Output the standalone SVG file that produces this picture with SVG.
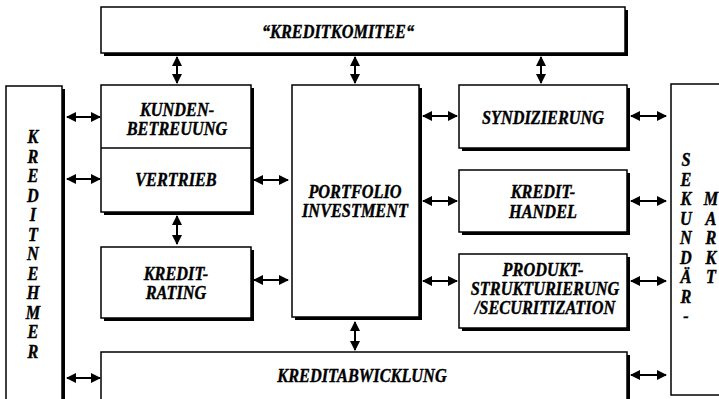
<svg xmlns="http://www.w3.org/2000/svg" width="719" height="399" viewBox="0 0 719 399">
<style>
.box{fill:#fff;stroke:#000;stroke-width:1.5}
.sh{fill:#000}
.t{font-family:"Liberation Serif","Times New Roman",serif;font-weight:bold;font-style:italic;font-size:16.3px;fill:#000;stroke:#000;stroke-width:0.35;text-anchor:middle}
.c{stroke:#000;stroke-width:2;fill:none;marker-start:url(#ah);marker-end:url(#ah)}
</style>
<defs>
<marker id="ah" viewBox="0 0 10 10" refX="9" refY="5" markerWidth="10" markerHeight="10" markerUnits="userSpaceOnUse" orient="auto-start-reverse">
<path d="M0,0 L10,5 L0,10 Z" fill="#000"/>
</marker>
</defs>
<rect width="719" height="399" fill="#fff"/>

<g id="kreditkomitee">
<rect class="sh" x="104" y="10" width="524" height="46"/>
<rect class="box" x="101" y="7" width="524" height="46"/>
<g transform="translate(338,38) scale(1,1.12)"><text class="t">“KREDITKOMITEE“</text></g>
</g>

<g id="kreditnehmer">
<rect class="sh" x="9" y="89" width="56" height="315"/>
<rect class="box" x="6" y="86" width="56" height="315"/>
<g transform="translate(33,143) scale(1,1.12)"><text class="t">K</text></g>
<g transform="translate(33,162.5) scale(1,1.12)"><text class="t">R</text></g>
<g transform="translate(33,182) scale(1,1.12)"><text class="t">E</text></g>
<g transform="translate(33,201.5) scale(1,1.12)"><text class="t">D</text></g>
<g transform="translate(33,221) scale(1,1.12)"><text class="t">I</text></g>
<g transform="translate(33,240.5) scale(1,1.12)"><text class="t">T</text></g>
<g transform="translate(33,260) scale(1,1.12)"><text class="t">N</text></g>
<g transform="translate(33,279.5) scale(1,1.12)"><text class="t">E</text></g>
<g transform="translate(33,299) scale(1,1.12)"><text class="t">H</text></g>
<g transform="translate(33,318.5) scale(1,1.12)"><text class="t">M</text></g>
<g transform="translate(33,338) scale(1,1.12)"><text class="t">E</text></g>
<g transform="translate(33,357.5) scale(1,1.12)"><text class="t">R</text></g>
</g>

<g id="kundenbetreuung-vertrieb">
<rect class="sh" x="104" y="88" width="150" height="127"/>
<rect class="box" x="101" y="85" width="150" height="127"/>
<line x1="101" y1="148" x2="251" y2="148" stroke="#000" stroke-width="1.5"/>
<g transform="translate(177,116) scale(1,1.12)"><text class="t">KUNDEN-</text></g>
<g transform="translate(177,134.5) scale(1,1.12)"><text class="t">BETREUUNG</text></g>
<g transform="translate(176,186) scale(1,1.12)"><text class="t">VERTRIEB</text></g>
</g>

<g id="kreditrating">
<rect class="sh" x="104" y="250" width="150" height="71"/>
<rect class="box" x="101" y="247" width="150" height="71"/>
<g transform="translate(176,280) scale(1,1.12)"><text class="t">KREDIT-</text></g>
<g transform="translate(176,298.5) scale(1,1.12)"><text class="t">RATING</text></g>
</g>

<g id="portfolio">
<rect class="sh" x="295" y="88" width="127" height="232"/>
<rect class="box" x="292" y="85" width="127" height="232"/>
<g transform="translate(355,198) scale(1,1.12)"><text class="t">PORTFOLIO</text></g>
<g transform="translate(355,217) scale(1,1.12)"><text class="t">INVESTMENT</text></g>
</g>

<g id="syndizierung">
<rect class="sh" x="462" y="88" width="168" height="63"/>
<rect class="box" x="459" y="85" width="168" height="63"/>
<g transform="translate(543,124) scale(1,1.12)"><text class="t">SYNDIZIERUNG</text></g>
</g>

<g id="kredithandel">
<rect class="sh" x="462" y="173" width="168" height="62"/>
<rect class="box" x="459" y="170" width="168" height="62"/>
<g transform="translate(543,198) scale(1,1.12)"><text class="t">KREDIT-</text></g>
<g transform="translate(543,218) scale(1,1.12)"><text class="t">HANDEL</text></g>
</g>

<g id="produktstrukturierung">
<rect class="sh" x="462" y="257" width="168" height="74"/>
<rect class="box" x="459" y="254" width="168" height="74"/>
<g transform="translate(543,276) scale(1,1.12)"><text class="t">PRODUKT-</text></g>
<g transform="translate(545,295) scale(1,1.12)"><text class="t">STRUKTURIERUNG</text></g>
<g transform="translate(545,313.5) scale(1,1.12)"><text class="t">/SECURITIZATION</text></g>
</g>

<g id="kreditabwicklung">
<rect class="sh" x="104" y="355" width="526" height="50"/>
<rect class="box" x="101" y="352" width="526" height="50"/>
<g transform="translate(362,382) scale(1,1.12)"><text class="t">KREDITABWICKLUNG</text></g>
</g>

<g id="sekundaermarkt">
<rect class="box" x="671" y="84" width="60" height="311"/>
<g transform="translate(686,166) scale(1,1.12)"><text class="t">S</text></g>
<g transform="translate(686,185.5) scale(1,1.12)"><text class="t">E</text></g>
<g transform="translate(686,205) scale(1,1.12)"><text class="t">K</text></g>
<g transform="translate(686,224.5) scale(1,1.12)"><text class="t">U</text></g>
<g transform="translate(686,244) scale(1,1.12)"><text class="t">N</text></g>
<g transform="translate(686,263.5) scale(1,1.12)"><text class="t">D</text></g>
<g transform="translate(686,283) scale(1,1.12)"><text class="t">Ä</text></g>
<g transform="translate(686,302.5) scale(1,1.12)"><text class="t">R</text></g>
<g transform="translate(686,322) scale(1,1.12)"><text class="t">-</text></g>
<g transform="translate(711,205) scale(1,1.12)"><text class="t">M</text></g>
<g transform="translate(711,224.5) scale(1,1.12)"><text class="t">A</text></g>
<g transform="translate(711,244) scale(1,1.12)"><text class="t">R</text></g>
<g transform="translate(711,263.5) scale(1,1.12)"><text class="t">K</text></g>
<g transform="translate(711,283) scale(1,1.12)"><text class="t">T</text></g>
</g>

<g id="connectors">
<line class="c" x1="67" y1="117" x2="100" y2="117"/>
<line class="c" x1="67" y1="179" x2="100" y2="179"/>
<line class="c" x1="67" y1="378" x2="100" y2="378"/>
<line class="c" x1="254" y1="180" x2="288" y2="180"/>
<line class="c" x1="254" y1="280" x2="288" y2="280"/>
<line class="c" x1="423" y1="116" x2="457" y2="116"/>
<line class="c" x1="423" y1="201" x2="457" y2="201"/>
<line class="c" x1="423" y1="281" x2="457" y2="281"/>
<line class="c" x1="631" y1="116" x2="666" y2="116"/>
<line class="c" x1="631" y1="201" x2="666" y2="201"/>
<line class="c" x1="631" y1="281" x2="666" y2="281"/>
<line class="c" x1="631" y1="375" x2="666" y2="375"/>
<line class="c" x1="177" y1="57" x2="177" y2="83"/>
<line class="c" x1="355" y1="57" x2="355" y2="83"/>
<line class="c" x1="541" y1="57" x2="541" y2="83"/>
<line class="c" x1="177" y1="216" x2="177" y2="244"/>
<line class="c" x1="355" y1="322" x2="355" y2="350"/>
</g>
</svg>
